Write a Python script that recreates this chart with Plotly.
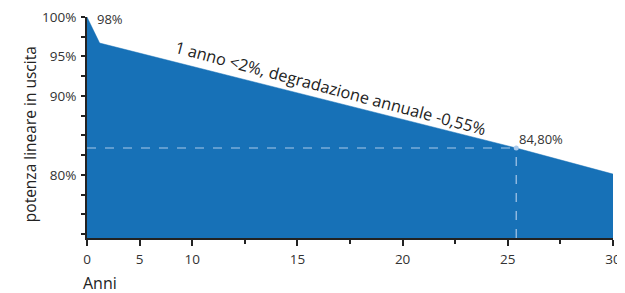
import plotly.graph_objects as go

# Data
anni = [0, 1.2, 25.4, 30]
potenza = [100, 96.7, 83.4, 80.1]
marker_anno = 25.4
marker_val = 83.4

x_tick_years = [0, 5, 10, 12.5, 15, 17.5, 20, 22.5, 25, 27.5, 30]
x_tick_labels = ["0", "5", "10", "", "15", "", "20", "", "25", "", "30"]
y_tick_vals = [72.5, 75, 77.5, 80, 82.5, 85, 87.5, 90, 92.5, 95, 97.5, 100]
y_tick_labels = ["", "", "", "80%", "", "", "", "90%", "", "95%", "", "100%"]

def pos(y):
    # axis of the original: 0-10 years compressed to half scale
    return y / 5.0 if y <= 10 else 2 + (y - 10) / 2.5

FONT = "Open Sans"
BLUE = "#1771b7"
LIGHT = "#a9c9ea"

fig = go.Figure()
fig.add_trace(go.Scatter(
    x=[pos(a) for a in anni], y=potenza, mode="lines",
    fill="tozeroy", fillcolor=BLUE, line=dict(color=BLUE, width=0.5),
    hoverinfo="skip", showlegend=False))

fig.add_shape(type="line", x0=0, x1=pos(marker_anno), y0=marker_val, y1=marker_val,
              line=dict(color=LIGHT, width=1.2, dash="dash"))
fig.add_shape(type="line", x0=pos(marker_anno), x1=pos(marker_anno), y0=72, y1=marker_val,
              line=dict(color=LIGHT, width=1.2, dash="dash"))
fig.add_trace(go.Scatter(x=[pos(marker_anno)], y=[marker_val], mode="markers",
                         marker=dict(color=LIGHT, size=5), showlegend=False, hoverinfo="skip"))

major = [(pos(v), t) for v, t in zip(x_tick_years, x_tick_labels) if t]
minor = [pos(v) for v, t in zip(x_tick_years, x_tick_labels) if not t]

fig.update_xaxes(range=[0, 10], tickmode="array", automargin=False,
                 tickvals=[m[0] for m in major], ticktext=[m[1] for m in major],
                 ticks="outside", ticklen=6, tickwidth=2, tickcolor="#222",
                 minor=dict(tickvals=minor, ticks="outside", ticklen=4, tickwidth=2, tickcolor="#222"),
                 showline=True, linecolor="#222", linewidth=2, showgrid=False, zeroline=False,
                 ticklabeloverflow="allow",
                 tickfont=dict(family=FONT, size=13.5, color="#333"), ticklabelstandoff=2)
fig.update_yaxes(range=[72, 100], tickmode="array", tickvals=y_tick_vals, ticktext=y_tick_labels,
                 automargin=False, ticklabeloverflow="allow",
                 ticks="outside", ticklen=4, tickwidth=2, tickcolor="#222",
                 showline=True, linecolor="#222", linewidth=2, showgrid=False, zeroline=False,
                 tickfont=dict(family=FONT, size=13.5, color="#333"), ticklabelstandoff=2)

annots = [
    dict(x=0.15, y=100, xref="x", yref="y", text="98%", showarrow=False,
         xanchor="left", yanchor="middle", yshift=-2, font=dict(family=FONT, size=13, color="#333")),
    dict(x=pos(marker_anno), y=marker_val, xref="x", yref="y", text="84,80%", showarrow=False,
         xanchor="left", yanchor="bottom", xshift=1, yshift=-2, font=dict(family=FONT, size=13, color="#333")),
    dict(x=4.62, y=91.0, xref="x", yref="y", text="1 anno <2%, degradazione annuale -0,55%",
         showarrow=False, textangle=15, font=dict(family=FONT, size=16.3, color="#222")),
    dict(x=-0.133, y=0.47, xref="paper", yref="paper", text="potenza lineare in uscita",
         showarrow=False, textangle=-90, font=dict(family=FONT, size=15.5, color="#222")),
    dict(x=-0.012, y=-0.262, xref="paper", yref="paper", text="Anni", showarrow=False,
         xanchor="left", yanchor="bottom", font=dict(family=FONT, size=16, color="#222")),
]

# page body has an 8px margin: size the figure so the plot lands at the reference pixels
fig.update_layout(width=617, height=285, margin=dict(l=79, r=12, t=9, b=55, autoexpand=False),
                  plot_bgcolor="white", paper_bgcolor="white", annotations=annots,
                  showlegend=False)
fig.write_html("out.html")
